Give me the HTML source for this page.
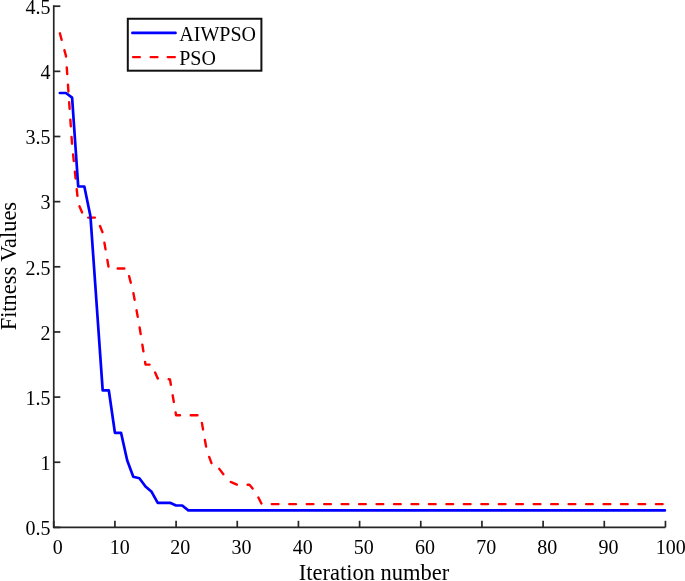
<!DOCTYPE html>
<html><head><meta charset="utf-8"><style>
html,body{margin:0;padding:0;background:#fff;width:685px;height:581px;overflow:hidden;}
svg{display:block;font-family:"Liberation Serif",serif;will-change:transform;}
</style></head><body>
<svg width="685" height="581" viewBox="0 0 685 581">
<rect width="685" height="581" fill="#fff"/>
<polyline points="59.87,33.30 65.98,56.00 72.10,145.00 78.22,203.50 84.34,217.60 96.57,217.60 102.69,232.70 108.80,268.50 127.15,268.50 133.27,292.30 139.39,326.00 145.50,364.60 151.62,364.60 157.74,378.50 169.97,379.40 176.09,415.30 200.56,415.30 206.68,450.00 212.79,466.80 218.91,468.40 225.03,476.30 231.14,482.20 237.26,484.80 249.49,484.80 255.61,492.10 261.73,504.10 665.45,504.10" fill="none" stroke="#ff0000" stroke-width="2.4" stroke-linejoin="round" stroke-linecap="round" stroke-dasharray="6.70 10.76 6.70 10.76 6.70 10.76 6.70 10.76 6.70 10.76 6.70 10.76 6.70 10.76 6.70 10.76 6.70 10.76 6.70 10.76 6.70 9.46 6.70 10.76 6.70 10.76 6.70 10.76 6.70 10.76 6.70 10.76 6.70 10.76 6.70 10.76 6.70 10.76 6.70 10.76 6.70 10.76 6.70 10.76 6.70 10.76 6.70 10.76 6.70 10.76 6.70 10.76 6.70 10.76 6.70 10.76 6.70 10.76 6.70 10.76 6.70 10.76 6.70 10.76 6.70 10.76 6.70 10.76 6.70 10.76 6.70 10.76 6.70 10.76 6.70 10.76 6.70 10.76 6.70 10.76 6.70 10.76 6.70 10.76 6.70 10.76 6.70 10.76 6.70 10.76 6.70 10.76 6.70 10.76 6.70 10.76 6.70 10.76 6.70 10.76 6.70 10.76 6.70 10.76 6.70 10.76 6.70 10.76 6.70 10.76 6.70 10.76 6.70 10.76 6.70 10.76 6.70 10.76 6.70 10.76 6.70 10.76 6.70 10.76"/>
<polyline points="59.87,93.00 65.98,93.00 72.10,97.60 78.22,186.50 84.34,186.50 90.45,216.20 102.69,390.30 108.80,390.30 114.92,432.80 121.04,432.80 127.15,460.30 133.27,476.70 139.39,478.30 145.50,486.50 151.62,491.80 157.74,502.80 169.97,502.80 176.09,505.50 182.21,505.50 188.32,510.40 664.90,510.40" fill="none" stroke="#0000ff" stroke-width="2.7" stroke-linejoin="round" stroke-linecap="round"/>
<g stroke="#262626" stroke-width="1.7" fill="none">
<path d="M53.75,5.3 V527.4 H665.45"/>
<path d="M53.75,527.4 V520.80"/>
<path d="M114.92,527.4 V520.80"/>
<path d="M176.09,527.4 V520.80"/>
<path d="M237.26,527.4 V520.80"/>
<path d="M298.43,527.4 V520.80"/>
<path d="M359.60,527.4 V520.80"/>
<path d="M420.77,527.4 V520.80"/>
<path d="M481.94,527.4 V520.80"/>
<path d="M543.11,527.4 V520.80"/>
<path d="M604.28,527.4 V520.80"/>
<path d="M665.45,527.4 V520.80"/>
<path d="M53.75,527.40 H60.35"/>
<path d="M53.75,462.25 H60.35"/>
<path d="M53.75,397.10 H60.35"/>
<path d="M53.75,331.95 H60.35"/>
<path d="M53.75,266.80 H60.35"/>
<path d="M53.75,201.65 H60.35"/>
<path d="M53.75,136.50 H60.35"/>
<path d="M53.75,71.35 H60.35"/>
<path d="M53.75,6.20 H60.35"/>
</g>
<g font-family="Liberation Serif" font-size="20" fill="#000">
<text x="57.65" y="553.5" text-anchor="middle">0</text>
<text x="119.72" y="553.5" text-anchor="middle">10</text>
<text x="180.29" y="553.5" text-anchor="middle">20</text>
<text x="241.46" y="553.5" text-anchor="middle">30</text>
<text x="302.63" y="553.5" text-anchor="middle">40</text>
<text x="363.80" y="553.5" text-anchor="middle">50</text>
<text x="424.97" y="553.5" text-anchor="middle">60</text>
<text x="486.14" y="553.5" text-anchor="middle">70</text>
<text x="547.31" y="553.5" text-anchor="middle">80</text>
<text x="608.48" y="553.5" text-anchor="middle">90</text>
<text x="670.65" y="553.5" text-anchor="middle">100</text>
<text x="50.6" y="535.20" text-anchor="end">0.5</text>
<text x="50.6" y="470.05" text-anchor="end">1</text>
<text x="50.6" y="404.90" text-anchor="end">1.5</text>
<text x="50.6" y="339.75" text-anchor="end">2</text>
<text x="50.6" y="274.60" text-anchor="end">2.5</text>
<text x="50.6" y="209.45" text-anchor="end">3</text>
<text x="50.6" y="144.30" text-anchor="end">3.5</text>
<text x="50.6" y="79.15" text-anchor="end">4</text>
<text x="50.6" y="14.00" text-anchor="end">4.5</text>
</g>
<text x="298.7" y="579.8" font-family="Liberation Serif" font-size="22.5" fill="#000">Iteration number</text>
<text transform="translate(16.2,330.3) rotate(-90)" x="0" y="0" font-family="Liberation Serif" font-size="22.4" fill="#000">Fitness Values</text>
<rect x="127.8" y="18.75" width="133.6" height="51.95" fill="#fff" stroke="#111" stroke-width="2"/>
<line x1="132.4" y1="32.9" x2="175.5" y2="32.9" stroke="#0000ff" stroke-width="2.7" stroke-linecap="round"/>
<line x1="133.1" y1="57.1" x2="139.8" y2="57.1" stroke="#ff0000" stroke-width="2.4" stroke-linecap="round"/>
<line x1="150.7" y1="57.1" x2="157.5" y2="57.1" stroke="#ff0000" stroke-width="2.4" stroke-linecap="round"/>
<line x1="167.7" y1="57.1" x2="174.8" y2="57.1" stroke="#ff0000" stroke-width="2.4" stroke-linecap="round"/>
<text x="179.3" y="41.2" font-family="Liberation Serif" font-size="20" fill="#000">AIWPSO</text>
<text x="179.2" y="64.9" font-family="Liberation Serif" font-size="20" fill="#000">PSO</text>
</svg>
</body></html>
